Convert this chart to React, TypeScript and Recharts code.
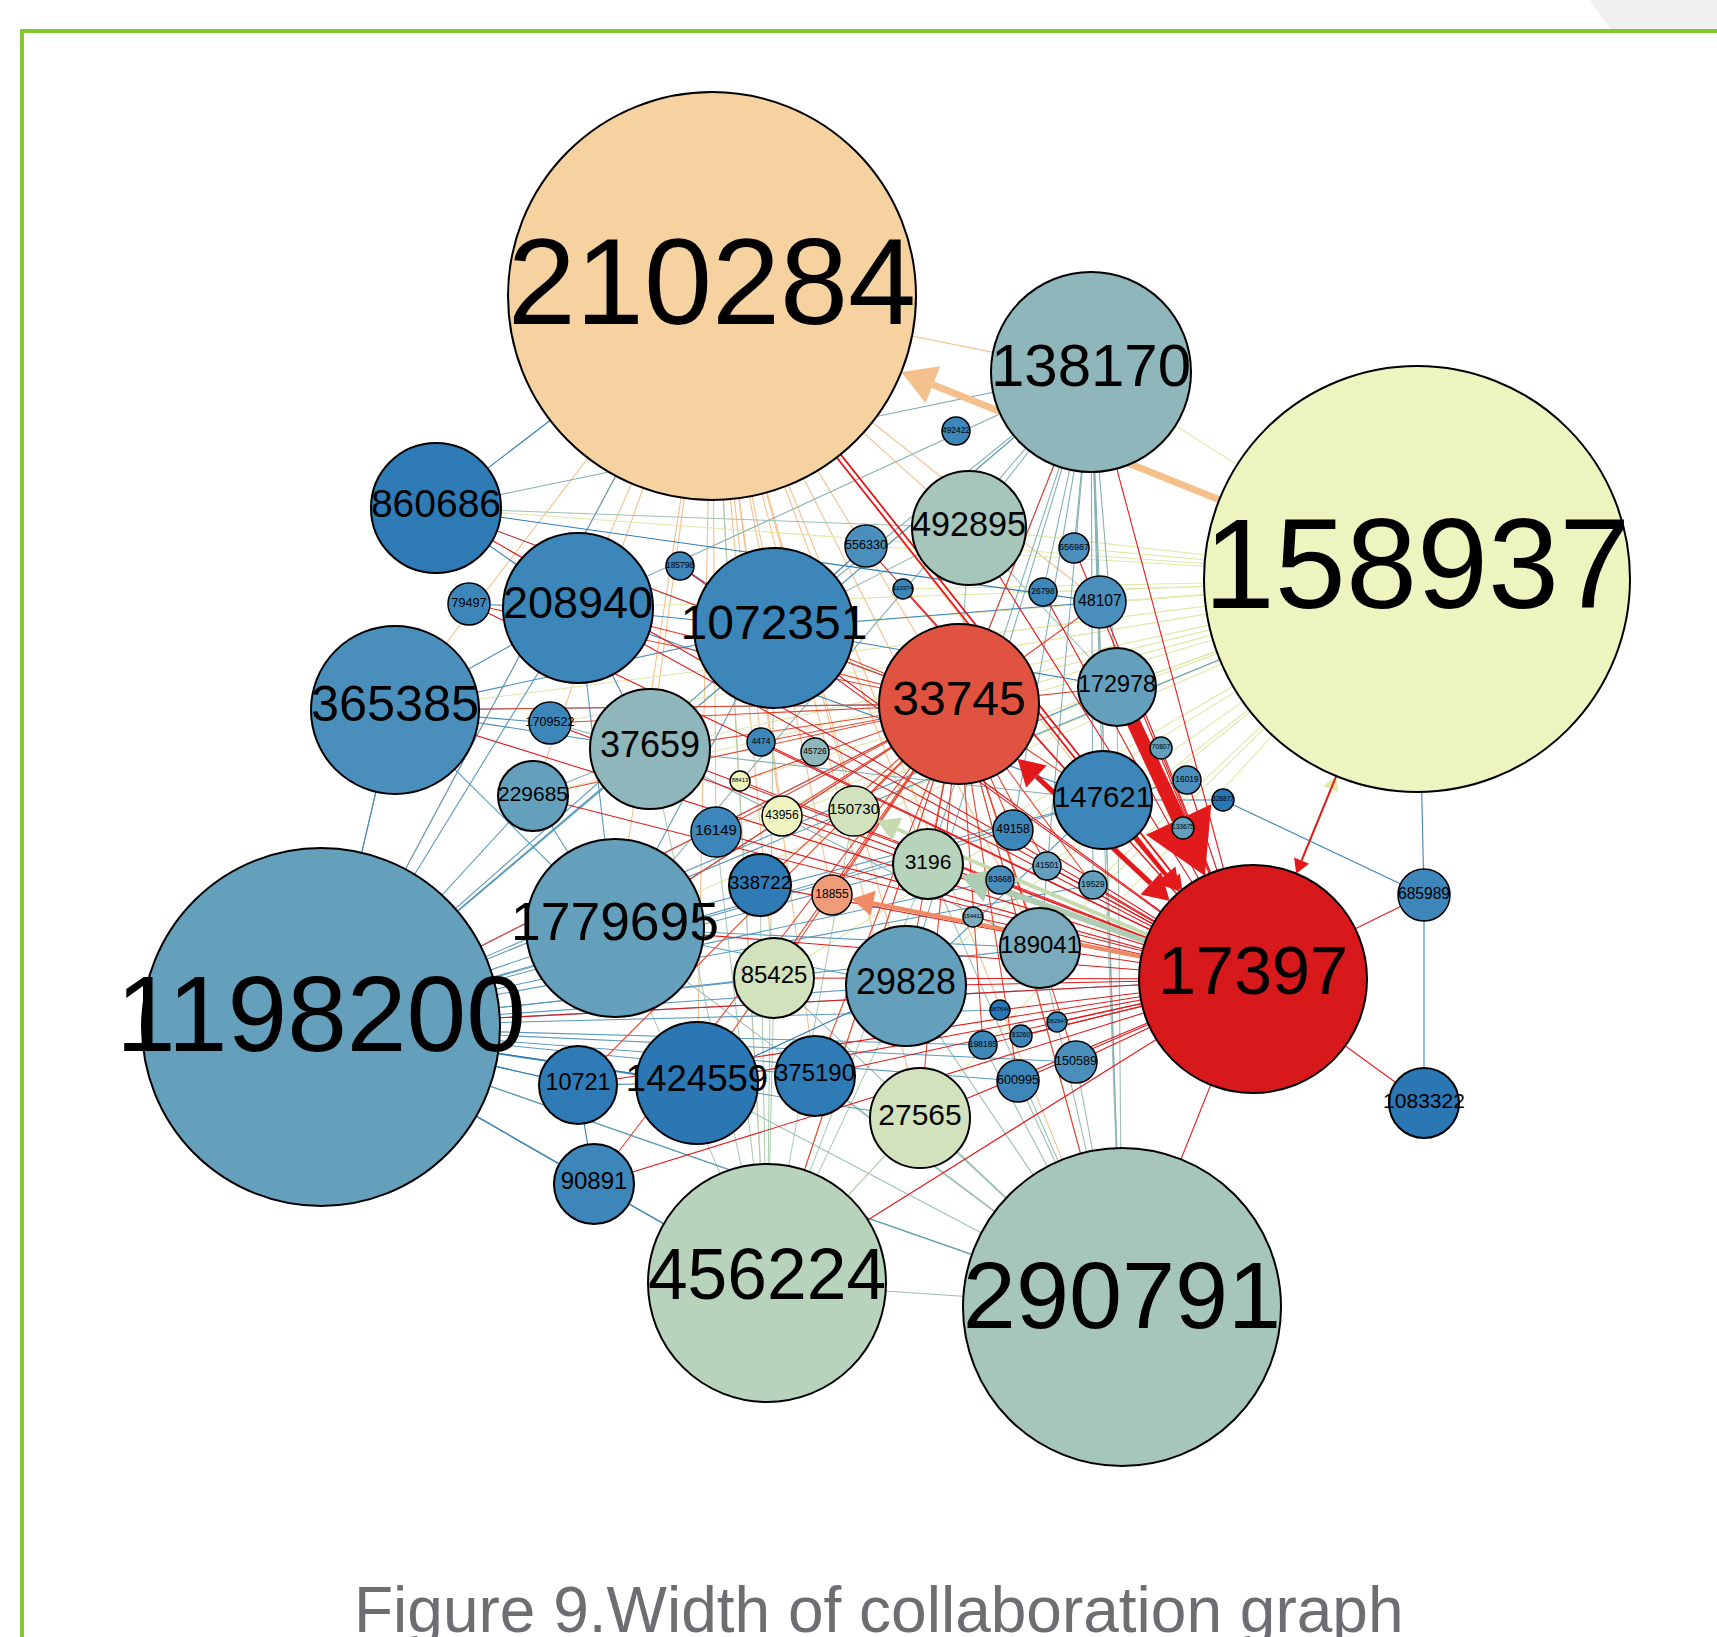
import { Scatter, ScatterChart, XAxis, YAxis, ZAxis } from 'recharts';

// Layout is 1:1 with the page: one layout unit = one pixel.
const WIDTH = 1717;
const HEIGHT = 1637;

const NODE_LABELS = [
  '210284', '138170', '158937', '860686', '492422', '492895', '556330', '185798', '79497', '208940',
  '1072351', '110374', '656987', '26798', '48107', '33745', '172978', '365385', '1709522', '37659',
  '4474', '45726', '88413', '229685', '70807', '16019', '147621', '328877', '133675', '43956',
  '150730', '16149', '49158', '3196', '41501', '83668', '19529', '338722', '18855', '154411',
  '1779695', '189041', '17397', '685989', '85425', '29828', '1198200', '687646', '198185', '83260',
  '282947', '150589', '600995', '10721', '1424559', '375190', '27565', '1083322', '90891', '456224',
  '290791',
];
const NODE_X = [
  712, 1091, 1417, 436, 956, 969, 866, 680, 469, 578,
  774, 903, 1074, 1043, 1100, 959, 1117, 395, 550, 650,
  761, 815, 740, 533, 1161, 1187, 1103, 1223, 1183, 782,
  854, 716, 1013, 928, 1047, 1000, 1093, 760, 832, 973,
  615, 1040, 1253, 1424, 774, 906, 321, 1000, 983, 1021,
  1057, 1076, 1018, 578, 697, 815, 920, 1424, 594, 767,
  1122,
];
const NODE_Y = [
  296, 372, 579, 508, 431, 528, 546, 566, 604, 608,
  628, 589, 548, 592, 602, 704, 687, 710, 723, 749,
  742, 752, 781, 796, 748, 780, 800, 800, 828, 816,
  811, 832, 830, 864, 866, 880, 885, 885, 895, 917,
  928, 948, 979, 895, 978, 986, 1027, 1010, 1045, 1036,
  1022, 1062, 1081, 1085, 1083, 1076, 1118, 1103, 1184, 1283,
  1307,
];
const NODE_SIZE = [
  204, 100, 213, 65, 14, 57, 21, 14, 21, 75,
  80, 10, 15, 14, 26, 80, 39, 84, 21, 60,
  14, 14, 10, 35, 11, 14, 49, 11, 11, 20,
  25, 25, 20, 35, 14, 14, 14, 31, 20, 10,
  89, 40, 114, 26, 40, 60, 179, 10, 14, 11,
  10, 21, 21, 39, 61, 40, 50, 35, 40, 119,
  159,
];
// colour class 0 (red) .. 14 (blue)
const NODE_LEVEL = [
  3, 8, 4, 13, 12, 7, 11, 12, 12, 12,
  12, 12, 11, 12, 11, 1, 10, 11, 12, 8,
  12, 8, 4, 10, 10, 11, 12, 14, 10, 4,
  5, 12, 12, 6, 10, 11, 10, 13, 2, 9,
  10, 9, 0, 12, 5, 10, 10, 14, 12, 12,
  12, 11, 12, 13, 14, 13, 5, 14, 12, 6,
  7,
];

const NODE_PALETTE = [
  '#d7191c', '#e05340', '#ee9c7a', '#f6d2a0', '#edf4bf', '#d2e2bc', '#b8d3bc', '#a6c6bb',
  '#8fb6ba', '#7aaabb', '#64a0bc', '#4a8ebb', '#3d86ba', '#2f7bb6', '#2a77b4',
];
const EDGE_PALETTE = [
  '#e31a1c', '#e8452f', '#f08a64', '#f4c08c', '#dfe8a6', '#c6dab0', '#aecdb3', '#9cc0b5',
  '#86b0b5', '#6fa5b9', '#5b9bbd', '#4a8ebb', '#3d86ba', '#2f7bb6', '#2a77b4',
];

// thin edges: hub (the target, gives the colour) and its partners
const EDGE_HUBS = [
  '210284', '158937', '456224', '290791', '138170', '492895', '1198200', '1779695', '365385',
  '860686', '1072351', '208940', '37659', '229685', '10721', '90891', '1424559', '29828',
  '147621', '685989', '33745', '17397',
];
const EDGE_PARTNERS = [
  ['1198200', '1779695', '37659', '1072351', '208940', '365385', '33745', '3196', '85425', '456224',
    '27565', '29828', '290791', '1424559', '18855', '150730', '43956', '138170', '492895', '147621',
    '189041', '48107', '229685', '16149', '4474', '375190'],
  ['860686', '208940', '365385', '1072351', '37659', '33745', '1779695', '1198200', '3196', '29828',
    '189041', '147621', '172978', '48107', '492895', '138170', '456224', '85425', '150730', '43956',
    '16149', '229685', '1709522', '88413', '556330', '110374', '26798', '656987', '19529', '41501'],
  ['1198200', '1779695', '37659', '33745', '85425', '27565', '3196', '29828', '1072351', '210284',
    '150730', '16149', '338722'],
  ['456224', '27565', '29828', '1424559', '1198200', '33745', '138170', '172978', '147621', '189041',
    '3196', '150589', '1779695', '375190', '600995', '198185', '85425'],
  ['33745', '172978', '147621', '48107', '26798', '656987', '492895', '1072351', '1198200', '189041',
    '290791', '29828', '3196', '1779695', '860686', '208940', '19529', '49158'],
  ['1072351', '172978', '33745', '860686'],
  ['17397', '33745', '1779695', '29828', '189041', '147621', '172978', '158937', '138170', '210284',
    '365385', '37659', '1072351', '208940', '3196', '1424559', '10721', '90891', '456224', '290791',
    '27565', '600995', '150589', '49158', '83668', '19529', '85425', '375190', '198185', '687646'],
  ['33745', '1072351', '229685', '29828', '189041', '147621', '365385', '208940'],
  ['1072351', '33745', '208940', '1709522', '1198200', '37659'],
  ['210284', '208940', '33745', '48107'],
  ['208940', '172978', '556330', '185798', '48107'],
  ['79497', '37659', '147621'],
  ['229685', '1709522', '147621', '189041'],
  ['1198200'],
  ['90891', '1424559', '1198200'],
  ['1198200', '456224'],
  ['1198200', '29828'],
  ['147621'],
  ['328877', '16019'],
  ['158937', '1083322', '328877'],
  ['1198200', '1779695', '365385', '37659', '208940', '1072351', '229685', '16149', '43956', '85425',
    '338722', '1424559', '375190', '27565', '456224', '29828', '90891', '10721', '138170', '48107',
    '172978', '147621', '189041', '290791', '860686', '79497', '1709522', '18855', '150730', '3196',
    '49158', '198185', '600995', '150589', '19529', '41501', '4474', '88413'],
  ['1198200', '1779695', '29828', '189041', '85425', '338722', '16149', '37659', '229685', '365385',
    '1709522', '208940', '1072351', '10721', '1424559', '375190', '27565', '456224', '90891', '600995',
    '150589', '198185', '83260', '282947', '687646', '154411', '83668', '41501', '19529', '49158',
    '147621', '43956', '88413', '4474', '45726', '685989', '1083322', '290791', '138170', '48107',
    '656987', '26798', '110374', '556330', '492895', '172978', '16019', '70807', '133675', '860686',
    '79497', '185798'],
];

// weighted, directed edges drawn with arrow heads
const ARROW_FROM = ['17397', '158937', '172978', '210284', '33745', '17397', '17397', '17397', '158937', '147621'];
const ARROW_TO = ['158937', '210284', '17397', '17397', '17397', '3196', '150730', '18855', '17397', '17397'];
const ARROW_WEIGHT = [2, 7, 14, 2, 5, 6, 4, 4, 2, 4];
const ARROW_KIND = ['single', 'single', 'single', 'double', 'both', 'single', 'single', 'single', 'single', 'single'];

const CAPTION = 'Figure 9.Width of collaboration graph';

const nodes = NODE_LABELS.map((label, i) => ({
  label,
  x: NODE_X[i],
  y: NODE_Y[i],
  r: NODE_SIZE[i],
  level: NODE_LEVEL[i],
}));
const byLabel = new Map(nodes.map((n) => [n.label, n]));
const drawOrder = [...nodes].sort((a, b) => b.r - a.r);

const FONT = '"Liberation Sans", Arial, Helvetica, sans-serif';

const EmptyPoint = () => <g />;

function NodeShape(props: any) {
  const { cx, cy, size, payload } = props;
  if (cx == null || cy == null) return <g />;
  const r = size;
  const fs = r * 0.6;
  return (
    <g>
      <circle cx={cx} cy={cy} r={r} fill={NODE_PALETTE[payload.level]} stroke="#000" strokeWidth={r > 30 ? 2 : 1.5} />
      <text
        x={cx}
        y={cy + r * 0.135}
        textAnchor="middle"
        fontSize={fs}
        fontFamily={FONT}
        fill="#000"
      >
        {payload.label}
      </text>
    </g>
  );
}

const starLine = (color: string) => (lp: any) => {
  const [c, ...rest] = lp.points;
  return (
    <g>
      {rest.map((p: any, i: number) => (
        <line key={i} x1={c.x} y1={c.y} x2={p.x} y2={p.y} stroke={color} strokeWidth={1.1} />
      ))}
    </g>
  );
};

const arrowLine = (color: string, w: number, kind: string, r0: number, r1: number) => (lp: any) => {
  const [a, b] = lp.points;
  const dx = b.x - a.x;
  const dy = b.y - a.y;
  const len = Math.hypot(dx, dy) || 1;
  const ux = dx / len;
  const uy = dy / len;
  const nx = -uy;
  const ny = ux;
  const head = 4 * w + 6;
  const hw = head * 0.58;
  const sx = a.x + ux * r0;
  const sy = a.y + uy * r0;
  const tx = b.x - ux * r1;
  const ty = b.y - uy * r1;
  const bx = tx - ux * head;
  const by = ty - uy * head;
  const headAt = (px: number, py: number, qx: number, qy: number) =>
    `${px},${py} ${qx + nx * hw},${qy + ny * hw} ${qx - nx * hw},${qy - ny * hw}`;
  const lineStartX = kind === 'both' ? sx + ux * head : sx;
  const lineStartY = kind === 'both' ? sy + uy * head : sy;
  const offsets = kind === 'double' ? [-2.5, 2.5] : [0];
  return (
    <g>
      {offsets.map((o) => (
        <line
          key={o}
          x1={lineStartX + nx * o}
          y1={lineStartY + ny * o}
          x2={bx + nx * o}
          y2={by + ny * o}
          stroke={color}
          strokeWidth={kind === 'double' ? 1.8 : w}
        />
      ))}
      <polygon points={headAt(tx, ty, bx, by)} fill={color} />
      {kind === 'both' && (
        <polygon points={headAt(sx, sy, sx + ux * head, sy + uy * head)} fill={color} />
      )}
    </g>
  );
};

export default function App() {
  return (
    <div
      style={{
        position: 'absolute',
        left: 0,
        top: 0,
        width: WIDTH,
        height: HEIGHT,
        overflow: 'hidden',
        background: '#fff',
      }}
    >
      <div
        style={{
          position: 'absolute',
          left: 1590,
          top: 0,
          width: 127,
          height: 29,
          background: '#efefef',
          clipPath: 'polygon(0 0, 100% 0, 100% 100%, 20px 100%)',
        }}
      />
      <div
        style={{
          position: 'absolute',
          left: 20,
          top: 29,
          width: 1750,
          height: 1700,
          borderTop: '4px solid #82c92e',
          borderLeft: '4px solid #82c92e',
        }}
      />
      <div style={{ position: 'absolute', left: 0, top: 0 }}>
        <ScatterChart width={WIDTH} height={HEIGHT} margin={{ top: 0, right: 0, bottom: 0, left: 0 }}>
          <XAxis type="number" dataKey="x" domain={[0, WIDTH]} allowDataOverflow hide />
          <YAxis type="number" dataKey="y" domain={[0, HEIGHT]} allowDataOverflow reversed hide />
          <ZAxis type="number" dataKey="r" domain={[0, WIDTH]} range={[0, WIDTH]} />
          {EDGE_HUBS.map((hub, i) => {
            const h = byLabel.get(hub)!;
            const data = [h, ...EDGE_PARTNERS[i].map((p) => byLabel.get(p)!)];
            return (
              <Scatter
                key={`e-${hub}`}
                data={data}
                line={starLine(EDGE_PALETTE[h.level])}
                shape={EmptyPoint}
                isAnimationActive={false}
              />
            );
          })}
          {ARROW_FROM.map((from, i) => {
            const a = byLabel.get(from)!;
            const b = byLabel.get(ARROW_TO[i])!;
            return (
              <Scatter
                key={`a-${i}`}
                data={[a, b]}
                line={arrowLine(EDGE_PALETTE[b.level], ARROW_WEIGHT[i], ARROW_KIND[i], a.r, b.r)}
                shape={EmptyPoint}
                isAnimationActive={false}
              />
            );
          })}
          <Scatter data={drawOrder} shape={NodeShape} isAnimationActive={false} />
        </ScatterChart>
      </div>
      <div
        style={{
          position: 'absolute',
          left: 354,
          top: 1578,
          fontSize: 64,
          lineHeight: '64px',
          fontFamily: FONT,
          color: '#6d6e71',
          whiteSpace: 'nowrap',
        }}
      >
        {CAPTION}
      </div>
    </div>
  );
}
